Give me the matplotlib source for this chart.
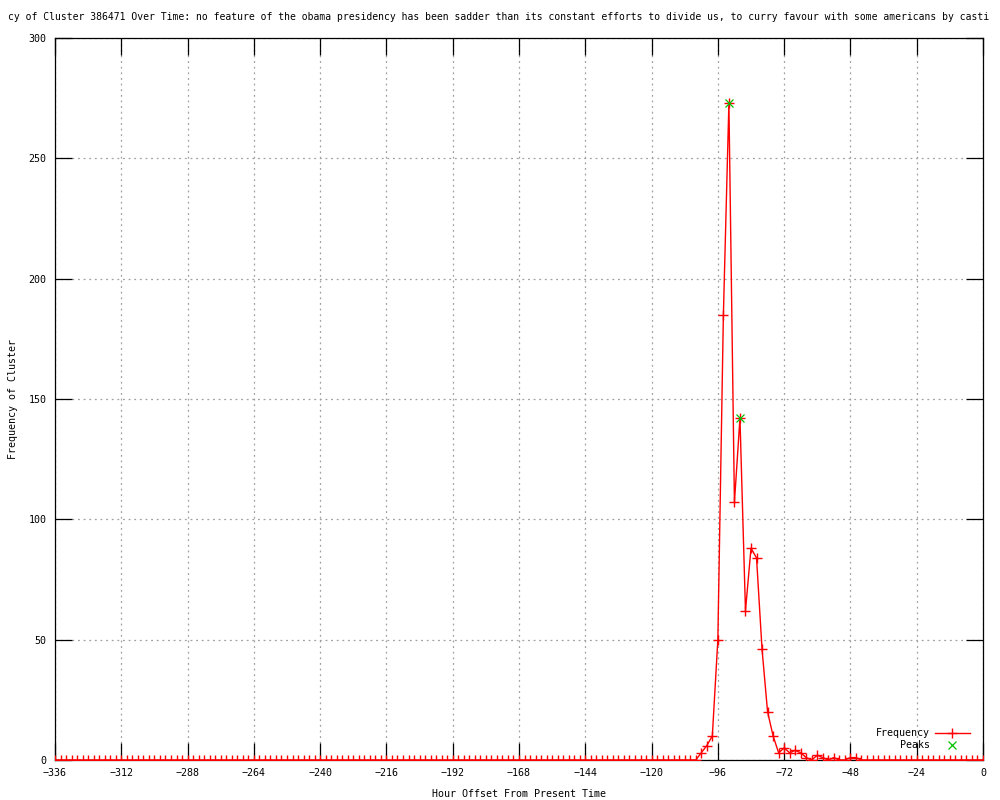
import matplotlib
matplotlib.use("Agg")
import matplotlib.pyplot as plt
from matplotlib.lines import Line2D

# ---- data ----
hours = list(range(-336, 1, 2))  # one sample every 2 hours
frequency = [
    0, 0, 0, 0, 0, 0, 0, 0, 0, 0, 0, 0, 0, 0, 0, 0, 0, 0, 0, 0,
    0, 0, 0, 0, 0, 0, 0, 0, 0, 0, 0, 0, 0, 0, 0, 0, 0, 0, 0, 0,
    0, 0, 0, 0, 0, 0, 0, 0, 0, 0, 0, 0, 0, 0, 0, 0, 0, 0, 0, 0,
    0, 0, 0, 0, 0, 0, 0, 0, 0, 0, 0, 0, 0, 0, 0, 0, 0, 0, 0, 0,
    0, 0, 0, 0, 0, 0, 0, 0, 0, 0, 0, 0, 0, 0, 0, 0, 0, 0, 0, 0,
    0, 0, 0, 0, 0, 0, 0, 0, 0, 0, 0, 0, 0, 0, 0, 0,
    # -104 .. -44
    0, 3, 6, 10, 50, 185, 273, 107, 142, 62, 88, 84, 46, 20, 10, 3,
    5, 3, 4, 3, 1, 0, 2, 1, 0, 1, 0, 0, 1, 1, 0,
    # -42 .. 0
    0, 0, 0, 0, 0, 0, 0, 0, 0, 0, 0, 0, 0, 0, 0, 0, 0, 0, 0, 0, 0, 0,
]
peak_hours = [-92, -88]
peak_values = [273, 142]

x_ticks = [-336, -312, -288, -264, -240, -216, -192, -168, -144, -120, -96, -72, -48, -24, 0]
y_ticks = [0, 50, 100, 150, 200, 250, 300]

title = ("cy of Cluster 386471 Over Time: no feature of the obama presidency has been sadder "
         "than its constant efforts to divide us, to curry favour with some americans by casti")
x_label = "Hour Offset From Present Time"
y_label = "Frequency of Cluster"

# ---- style ----
FONT = "DejaVu Sans Mono"
FS = 7.2
plt.rcParams["font.family"] = [FONT]
plt.rcParams["font.size"] = FS

fig = plt.figure(figsize=(10, 8), dpi=100)
ax = fig.add_axes([0.055, 0.05, 0.928, 0.9025])

ax.plot(hours, frequency, color="#ff0000", linewidth=1.0, marker="+",
        markersize=7.5, markeredgewidth=1.0, label="Frequency", zorder=3)
ax.plot(peak_hours, peak_values, linestyle="none", color="#00c000", marker="x",
        markersize=6, markeredgewidth=0.9, label="Peaks", zorder=4)

ax.set_xlim(-336, 0)
ax.set_ylim(0, 300)
ax.set_xticks(x_ticks)
ax.set_yticks(y_ticks)
ax.set_xticklabels([str(t).replace("-", "\u2212") for t in x_ticks])
ax.tick_params(axis="both", direction="in", length=12, width=0.9, color="black",
               labelsize=FS, top=True, right=True)
ax.tick_params(axis="x", pad=6)
ax.tick_params(axis="y", pad=6)

ax.grid(True, color="#a0a0a0", linestyle=(0, (1.5, 3)), linewidth=0.9)
for s in ax.spines.values():
    s.set_linewidth(0.9)
    s.set_color("black")

ax.set_xlabel(x_label, fontsize=FS, labelpad=8)
ax.set_ylabel(y_label, fontsize=FS, labelpad=8)

fig.text(0.4985, 1 - 17 / 800, title, ha="center", va="center", fontsize=7.0)

handles = [
    Line2D([], [], color="#ff0000", linewidth=1.0, marker="+", markersize=7.5,
           markeredgewidth=1.0),
    Line2D([], [], color="#00c000", linestyle="none", marker="x", markersize=6,
           markeredgewidth=0.9),
]
ax.legend(handles, ["Frequency", "    Peaks"], loc="lower right",
          bbox_to_anchor=(1 - 4 / 928, 0), frameon=False,
          markerfirst=False, fontsize=FS, handlelength=3.5, handletextpad=0.5,
          labelspacing=0.25, borderaxespad=0.55, prop={"family": FONT, "size": FS})

fig.savefig("out.png", dpi=100)
